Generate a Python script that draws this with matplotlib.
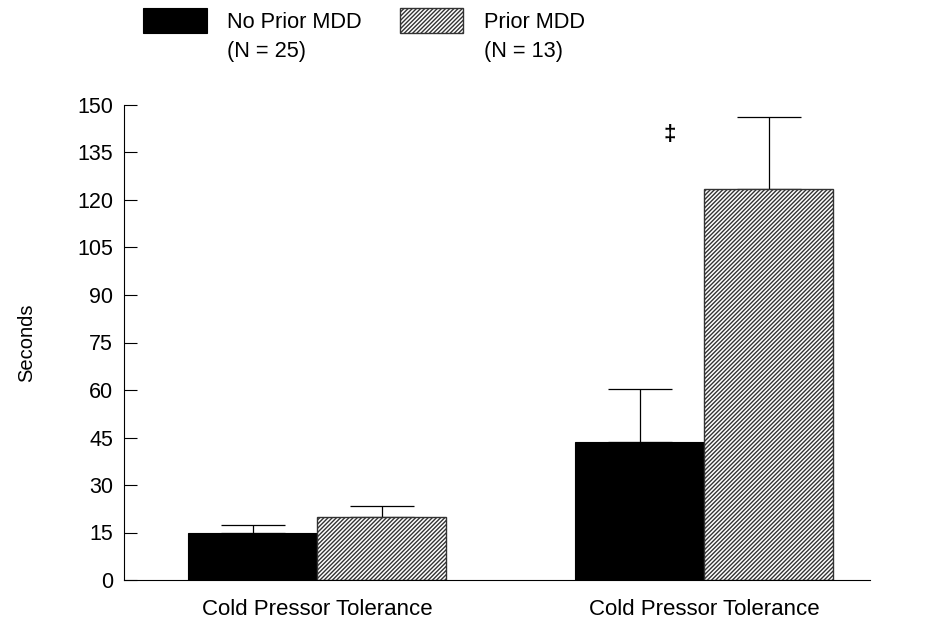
import matplotlib
matplotlib.use("Agg")
import matplotlib.pyplot as plt
import numpy as np
from matplotlib.patches import Rectangle

plt.rcParams['font.family'] = ['Liberation Sans', 'DejaVu Sans']
plt.rcParams['hatch.linewidth'] = 1.0

categories = ["Cold Pressor Tolerance", "Cold Pressor Tolerance"]
series_names = ["No Prior MDD\n(N = 25)", "Prior MDD\n(N = 13)"]
no_prior = [15.0, 43.5]
no_prior_err = [2.5, 16.8]
prior = [19.8, 123.5]
prior_err = [3.6, 22.7]
yticks = [0, 15, 30, 45, 60, 75, 90, 105, 120, 135, 150]

HATCH = '////////'

fig = plt.figure(figsize=(9.3, 6.27), dpi=100)
ax = fig.add_axes([124/930, 1-580/627, (870-124)/930, (580-105)/627])

centers = np.array([193.0, 580.0])
w = 129.0
ax.bar(centers - w/2, no_prior, width=w, color='black', edgecolor='black', linewidth=0.8, zorder=2)
ax.bar(centers + w/2, prior, width=w, color='white', edgecolor='#333333', hatch=HATCH, linewidth=1.0, zorder=2)

ax.errorbar(centers - w/2, no_prior, yerr=[np.zeros(2), no_prior_err], fmt='none',
            ecolor='black', elinewidth=0.9, capsize=23, capthick=0.9, zorder=1)
ax.errorbar(centers + w/2, prior, yerr=[np.zeros(2), prior_err], fmt='none',
            ecolor='black', elinewidth=0.9, capsize=23, capthick=0.9, zorder=1)

ax.text(centers[1] - 34, 140.8, "‡", ha='center', va='center', fontsize=16, fontweight='bold')

ax.set_xlim(0, 746)
ax.set_ylim(0, 150)
ax.set_yticks(yticks)
ax.set_yticklabels([str(t) for t in yticks], fontsize=15.5)
ax.tick_params(axis='y', direction='in', length=9, width=0.8, pad=8)
ax.set_xticks(centers)
ax.set_xticklabels(categories, fontsize=16)
ax.tick_params(axis='x', length=0, pad=14)
for s in ['top', 'right']:
    ax.spines[s].set_visible(False)
ax.spines['left'].set_linewidth(0.8)
ax.spines['bottom'].set_linewidth(0.8)
ax.set_ylabel("Seconds", fontsize=14.5)
ax.yaxis.set_label_coords(-(124-36)/746, 0.5)

# legend drawn manually
fig.patches.append(Rectangle((143/930, 1-33/627), 64/930, 25/627, transform=fig.transFigure,
                             facecolor='black', edgecolor='black', linewidth=0.8))
fig.patches.append(Rectangle((400/930, 1-33/627), 63/930, 25/627, transform=fig.transFigure,
                             facecolor='white', edgecolor='#333333', hatch=HATCH, linewidth=1.0))
fig.text(227/930, 1-22/627, "No Prior MDD", fontsize=15.7, va='center', ha='left')
fig.text(227/930, 1-52/627, "(N = 25)", fontsize=15.7, va='center', ha='left')
fig.text(484/930, 1-22/627, "Prior MDD", fontsize=15.7, va='center', ha='left')
fig.text(484/930, 1-52/627, "(N = 13)", fontsize=15.7, va='center', ha='left')

fig.savefig("out.png", dpi=100)
